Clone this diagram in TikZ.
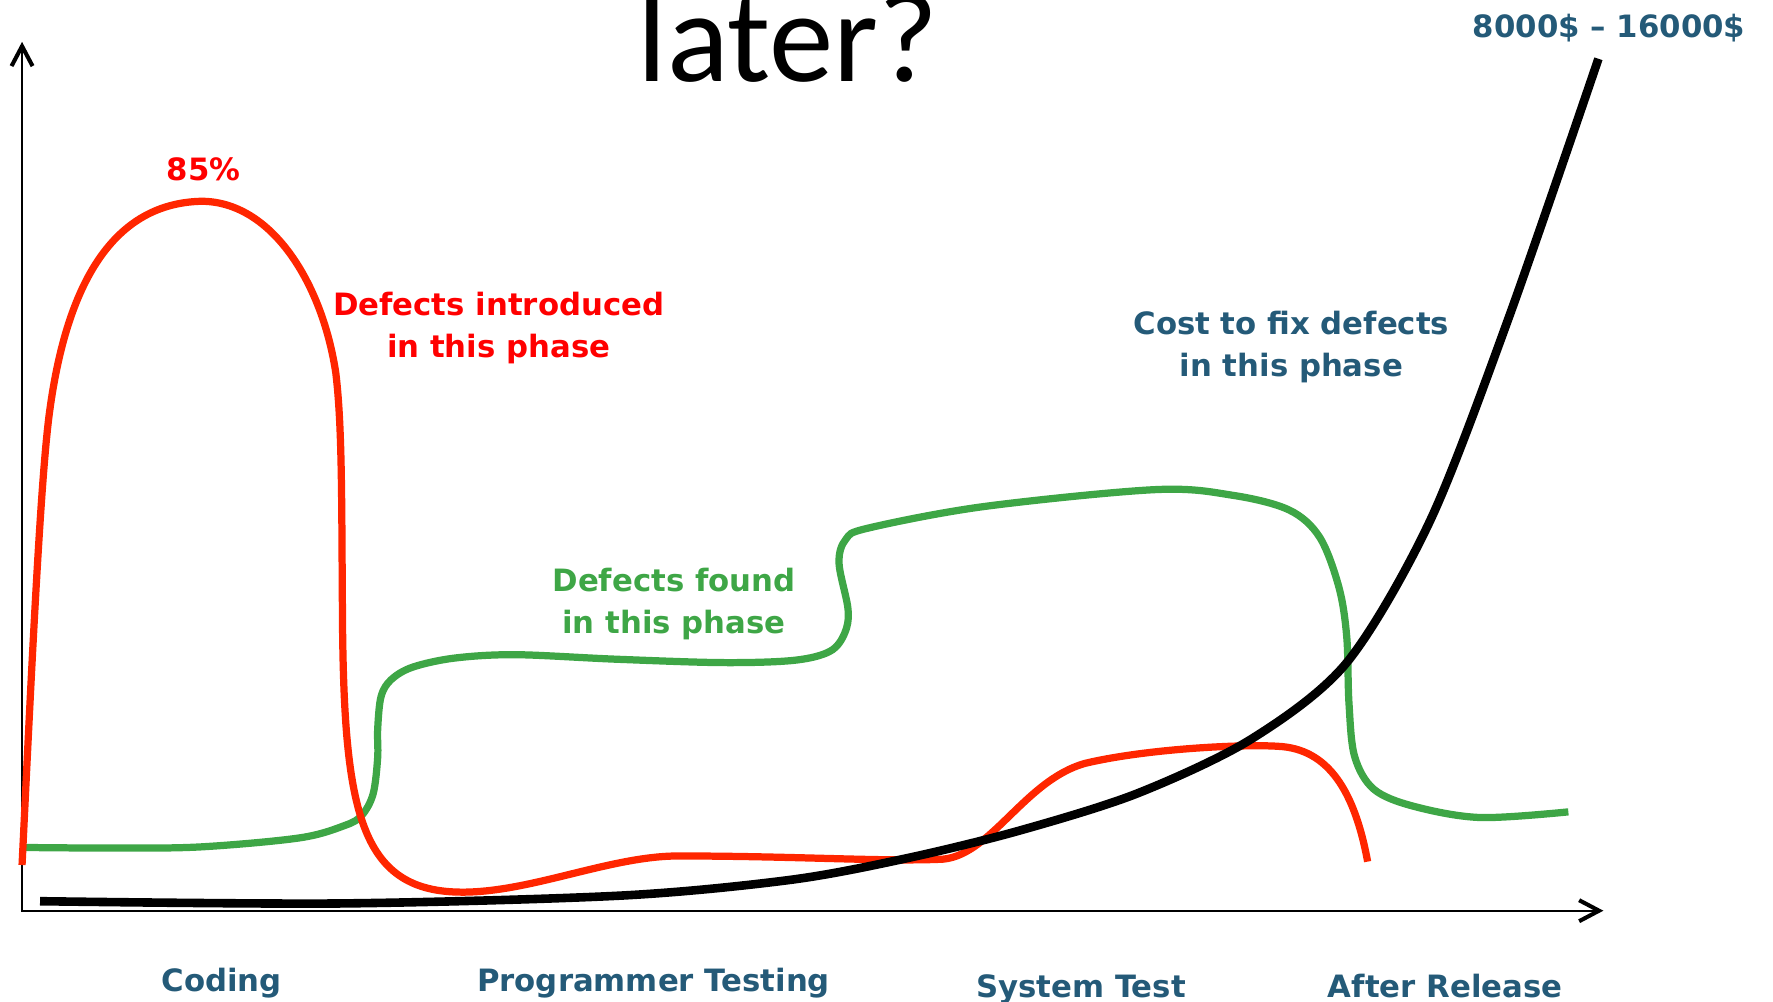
\documentclass[tikz,border=0pt]{standalone}
\usepackage{fontspec}
\setmainfont{DejaVu Sans}
\newfontfamily\slidefont{Carlito}
\usepackage{tikz}
\usetikzlibrary{arrows.meta}
\definecolor{phaseblue}{RGB}{36,90,120}
\definecolor{labelred}{RGB}{255,0,0}
\definecolor{curvered}{RGB}{255,38,0}
\definecolor{curvegreen}{RGB}{62,166,70}
\tikzset{
  axisline/.style={line width=1pt,
    {Straight Barb[length=8.8pt,width=9.3pt,line width=1.8pt]}-{Straight Barb[length=8.8pt,width=9.3pt,line width=1.8pt]}},
  introcurve/.style={curvered, line width=3.2pt},
  foundcurve/.style={curvegreen, line width=3.2pt},
  costcurve/.style={black, line width=3.8pt},
  labeltext/.style={font=\bfseries\fontsize{13.6}{18.5}\selectfont, anchor=base, align=center, inner sep=0pt},
  redlabel/.style={labeltext, text=labelred},
  greenlabel/.style={labeltext, text=curvegreen},
  bluelabel/.style={labeltext, text=phaseblue}
}

\begin{document}
\begin{tikzpicture}[x=0.5pt, y=-0.5pt]
\useasboundingbox (0,0) rectangle (1568,886);
\node[font=\slidefont\fontsize{57}{60}\selectfont, anchor=base, inner sep=0pt] (title) at (697,72.5) {later?};
\coordinate (ytop) at (19.5,37);
\coordinate (origin) at (19.5,805.4);
\coordinate (xend) at (1418,805.4);
\draw[axisline] (ytop) -- (origin) -- (xend);
\draw[foundcurve] plot[smooth, tension=0.55] coordinates {
  (22,749.5) (100,750) (177,749) (265,741) (305,730) (320,721) (330,702)
  (334,670) (334,645) (337,616) (346,601) (365,590) (402,582) (456,579)
  (545,583) (639,586) (702,584) (734,576) (747,560) (750,539) (742,498)
  (748,477) (768,467) (870,448) (1022,433) (1090,438) (1140,451) (1167,475)
  (1184,519) (1191,563) (1193,622) (1198,669) (1215,698) (1250,713)
  (1309,723) (1387,718)};
\draw[introcurve] (19.5,765) .. controls (28,590) and (36,420) .. (44,363)
  .. controls (58,260) and (95,180) .. (178,178)
  .. controls (240,178) and (285,250) .. (297,330)
  .. controls (303,380) and (302,450) .. (303,560)
  .. controls (305,720) and (320,789) .. (409,789)
  .. controls (470,789) and (540,757) .. (600,757)
  .. controls (700,757) and (780,762) .. (830,760)
  .. controls (875,760) and (905,690) .. (960,675)
  .. controls (1015,662) and (1100,658) .. (1130,660)
  .. controls (1175,662) and (1198,700) .. (1209.5,762);
\draw[costcurve] plot[smooth, tension=0.5] coordinates {
  (35.4,797) (300,799) (550,792) (700,778) (802,759) (900,735) (1005,702)
  (1106,654) (1191,586) (1265,460) (1335,279) (1413.6,52)};
\node[redlabel] (peak) at (180,160) {85\%};
\node[redlabel] (introduced) at (441,316) {Defects introduced\\in this phase};
\node[greenlabel] (found) at (596,560) {Defects found\\in this phase};
\node[bluelabel] (cost) at (1142,333) {Cost to fix defects\\in this phase};
\node[bluelabel] (range) at (1423,33) {8000\$ – 16000\$};
\node[bluelabel] (coding) at (196,877) {Coding};
\node[bluelabel] (devtest) at (578,877) {Programmer Testing};
\node[bluelabel] (systest) at (956,882) {System Test};
\node[bluelabel] (release) at (1278,882) {After Release};
\end{tikzpicture}
\end{document}
